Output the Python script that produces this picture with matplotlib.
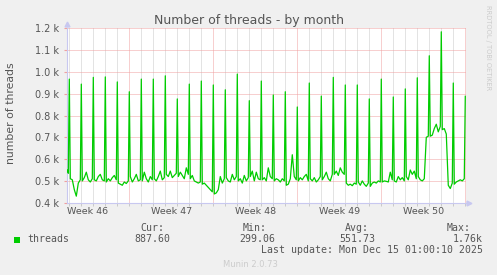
import matplotlib
matplotlib.use("Agg")
import matplotlib.pyplot as plt
from matplotlib.patches import Rectangle
import numpy as np

W, H = 497, 275

# day 0 = Mon Nov 10 2025 00:00, one spike every midnight from day 2 to day 35
spike_days = list(range(2, 36))
spike_peaks = [967, 944, 975, 977, 954, 909, 967, 967, 982, 876, 944, 958,
               940, 918, 990, 868, 958, 894, 909, 839, 949, 889, 975, 940,
               940, 876, 967, 885, 922, 973, 1074, 1184, 949, 888]

# values between the spikes, read at these hours of each day (days 2..34)
base_hours = [2, 6, 10, 14, 18, 22]
baseline = [
    [510, 505, 460, 430, 490, 505],
    [500, 515, 540, 505, 495, 510],
    [505, 500, 520, 530, 505, 500],
    [495, 510, 500, 515, 525, 505],
    [490, 485, 480, 495, 488, 500],
    [520, 495, 510, 530, 500, 505],
    [500, 540, 510, 495, 520, 505],
    [510, 500, 520, 545, 505, 515],
    [530, 520, 545, 515, 525, 535],
    [520, 540, 525, 510, 560, 530],
    [510, 525, 500, 495, 490, 495],
    [485, 490, 480, 470, 460, 450],
    [440, 445, 460, 520, 490, 510],
    [515, 500, 495, 530, 505, 520],
    [500, 510, 490, 525, 500, 515],
    [520, 545, 500, 540, 510, 505],
    [505, 515, 500, 560, 520, 510],
    [500, 510, 505, 495, 510, 500],
    [480, 485, 510, 620, 520, 505],
    [500, 515, 505, 520, 530, 500],
    [510, 500, 515, 495, 505, 520],
    [505, 520, 540, 510, 500, 530],
    [530, 545, 525, 560, 540, 530],
    [490, 480, 485, 478, 490, 485],
    [495, 480, 500, 485, 475, 490],
    [475, 490, 495, 490, 500, 495],
    [495, 500, 498, 495, 540, 505],
    [500, 495, 520, 505, 515, 500],
    [520, 505, 550, 530, 545, 510],
    [520, 505, 500, 510, 700, 705],
    [705, 710, 740, 760, 725, 750],
    [735, 740, 715, 480, 465, 490],
    [485, 495, 500, 505, 500, 510],
]
start_hours = [20, 22]
start_vals = [550, 535]

week_labels = ["Week 46", "Week 47", "Week 48", "Week 49", "Week 50"]
week_centers = [3.5, 10.5, 17.5, 24.5, 31.5]
y_ticks = [400, 500, 600, 700, 800, 900, 1000, 1100, 1200]
y_labels = ["0.4 k", "0.5 k", "0.6 k", "0.7 k", "0.8 k", "0.9 k", "1.0 k", "1.1 k", "1.2 k"]

# build the series
t = [1 + h / 24 for h in start_hours]
v = list(start_vals)
for i, d in enumerate(spike_days):
    t.append(d)
    v.append(spike_peaks[i])
    if i < len(baseline):
        for h, b in zip(base_hours, baseline[i]):
            t.append(d + h / 24)
            v.append(b)

BG = "#f0f0f0"
TXT = "#555555"
AXC = "#c8c8f0"


def fx(x):
    return x / W


def fy(y):
    return 1 - y / H


fig = plt.figure(figsize=(W / 100, H / 100), dpi=100, facecolor=BG)
ax = fig.add_axes([fx(67), fy(202.7), fx(466) - fx(67), fy(28.3) - fy(202.7)])
ax.set_facecolor("white")

ax.set_xlim(1.808, 35.06)
ax.set_ylim(400, 1200)

# grid
for d in range(2, 36):
    col = "#f0a0a0" if d % 7 == 0 else "#c8c8c8"
    ax.axvline(d, color=col, lw=0.72, ls=(0, (1, 1)), zorder=1)
for yv in y_ticks[1:]:
    ax.axhline(yv, color="#f0a0a0", lw=0.72, ls=(0, (1, 1)), zorder=1)

ax.plot(t, v, color="#00cc00", lw=0.9, zorder=3)

for s in ["top", "right"]:
    ax.spines[s].set_visible(False)
for s in ["left", "bottom"]:
    ax.spines[s].set_color(AXC)
    ax.spines[s].set_linewidth(0.8)
ax.plot([0], [1.025], marker="^", ms=3.5, color=AXC, transform=ax.transAxes, clip_on=False)
ax.plot([1.008], [0], marker=">", ms=3.5, color=AXC, transform=ax.transAxes, clip_on=False)

ax.set_yticks(y_ticks)
ax.set_yticklabels(y_labels)
ax.tick_params(axis="y", length=2, color="#f0a0a0", pad=4, labelsize=7, labelcolor=TXT)
ax.set_xticks(week_centers)
ax.set_xticklabels(week_labels)
ax.tick_params(axis="x", length=0, pad=3, labelsize=6.8, labelcolor=TXT)
ax.set_xticks(range(2, 36), minor=True)
ax.tick_params(axis="x", which="minor", length=2, width=0.7, color="#c8c8c8")
for tk, d in zip(ax.xaxis.get_minor_ticks(), range(2, 36)):
    if d % 7 == 0:
        tk.tick1line.set_color("#f0a0a0")

fig.text(fx(248.5), fy(24), "Number of threads - by month", ha="center", va="baseline",
         fontsize=9, color=TXT)
fig.text(fx(11), fy(113.5), "number of threads", rotation=90, ha="center", va="center",
         fontsize=7.8, color=TXT)
fig.text(fx(488), fy(5), "RRDTOOL / TOBI OETIKER", rotation=270, ha="center", va="top",
         fontsize=4.8, color="#cccccc")

# legend block
fig.patches.append(Rectangle((fx(14), fy(243)), fx(6), 6 / H, transform=fig.transFigure,
                             facecolor="#00cc00", edgecolor="none"))
mono = dict(family="DejaVu Sans Mono", fontsize=7.15, color=TXT, va="baseline")
fig.text(fx(27), fy(242.3), "threads", ha="left", **mono)
fig.text(fx(140), fy(230.7), "Cur:", ha="left", **mono)
fig.text(fx(243), fy(230.7), "Min:", ha="left", **mono)
fig.text(fx(345), fy(230.7), "Avg:", ha="left", **mono)
fig.text(fx(447), fy(230.7), "Max:", ha="left", **mono)
fig.text(fx(134), fy(242.3), "887.60", ha="left", **mono)
fig.text(fx(239), fy(242.3), "299.06", ha="left", **mono)
fig.text(fx(339), fy(242.3), "551.73", ha="left", **mono)
fig.text(fx(483), fy(242.3), "1.76k", ha="right", **mono)
fig.text(fx(483), fy(253), "Last update: Mon Dec 15 01:00:10 2025", ha="right", **mono)
fig.text(fx(250), fy(266.7), "Munin 2.0.73", ha="center", va="baseline", fontsize=6,
         color="#cccccc")

fig.savefig("out.png", dpi=100, facecolor=BG)
